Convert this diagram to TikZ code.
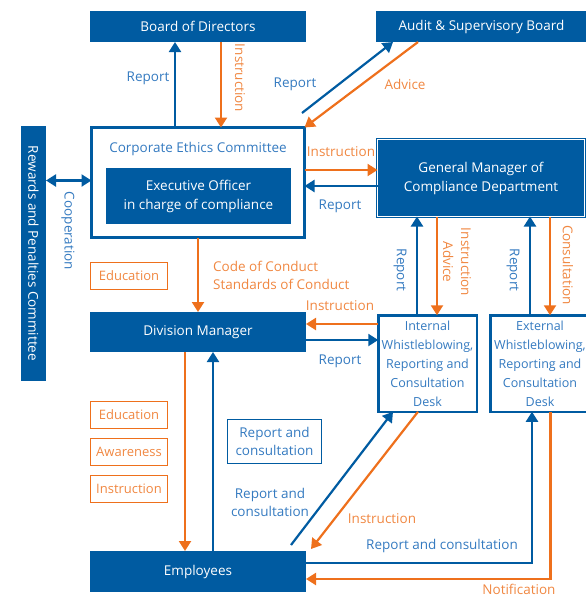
\documentclass[tikz,border=0pt]{standalone}
\usepackage{fontspec}
\setmainfont{Open Sans}
\usetikzlibrary{arrows.meta}
\definecolor{cblue}{RGB}{0,91,161}
\definecolor{ctxtb}{RGB}{52,122,192}
\definecolor{corange}{RGB}{238,112,28}
\definecolor{ctxto}{RGB}{240,135,65}
\tikzset{
  blkbox/.style={fill=cblue,text=white,inner sep=0pt,outer sep=0pt,align=center,
    font=\fontsize{13.5}{19}\selectfont},
  deskbox/.style={draw=cblue,line width=2.5pt,fill=white,text=ctxtb,inner sep=0pt,
    outer sep=0pt,align=center,font=\fontsize{12.5}{19}\selectfont},
  tagbox/.style={draw=corange,line width=1pt,text=ctxto,inner sep=0pt,outer sep=0pt,
    minimum width=77pt,minimum height=27pt,font=\fontsize{13}{16}\selectfont},
  blab/.style={text=ctxtb,inner sep=0pt,align=center,font=\fontsize{13.5}{18}\selectfont},
  olab/.style={text=ctxto,inner sep=0pt,align=center,font=\fontsize{13.5}{18}\selectfont},
  barr/.style={draw=cblue,line width=2.2pt,-{Triangle[length=10pt,width=12pt]}},
  oarr/.style={draw=corange,line width=2.2pt,-{Triangle[length=10pt,width=12pt]}},
}
\begin{document}
\begin{tikzpicture}[x=1pt,y=-1pt]
\useasboundingbox (0,0) rectangle (586,598);
% boxes
\node[blkbox,minimum width=216pt,minimum height=31pt] (bod) at (198,26.5) {Board of Directors};
\node[blkbox,minimum width=211pt,minimum height=31pt] (asb) at (481.5,26.5) {Audit \& Supervisory Board};
\node[blkbox,minimum width=25pt,minimum height=255pt] (rpc) at (33.5,253.5)
  {\rotatebox{-90}{Rewards and Penalties Committee}};
\node[deskbox,line width=3pt,minimum width=213pt,minimum height=110pt] (cec) at (198,182.5) {};
\node[blab] (cect) at (198,149) {Corporate Ethics Committee};
\node[blkbox,minimum width=185pt,minimum height=56pt] (exo) at (198.5,196)
  {Executive Officer\\in charge of compliance};
\node[blkbox,draw=cblue,double=white,double distance=0.8pt,line width=1.2pt,
  minimum width=207pt,minimum height=77pt] (gm) at (481,178)
  {General Manager of\\Compliance Department};
\node[blkbox,minimum width=216pt,minimum height=40pt] (dm) at (198,332) {Division Manager};
\node[deskbox,minimum width=98.5pt,minimum height=96.5pt] (idesk) at (427.5,363.5)
  {Internal\\Whistleblowing,\\Reporting and\\Consultation\\Desk};
\node[deskbox,minimum width=99pt,minimum height=96.5pt] (edesk) at (540,363.5)
  {External\\Whistleblowing,\\Reporting and\\Consultation\\Desk};
\node[blkbox,minimum width=216pt,minimum height=41pt] (emp) at (198,571.5) {Employees};
\node[tagbox] (edua) at (129,276) {Education};
\node[tagbox] (edub) at (129,415) {Education};
\node[tagbox] (awa) at (129,452) {Awareness};
\node[tagbox] (insb) at (129,488.5) {Instruction};
\node[blab,draw=cblue,line width=1pt,minimum width=94pt,minimum height=44pt] (racbox)
  at (274.5,441.5) {Report and\\consultation};
% connectors
\draw[barr] ([xshift=-23pt]cec.north) -- ([xshift=-23pt]bod.south);
\draw[oarr] ([xshift=23pt]bod.south) -- ([xshift=23pt]cec.north);
\draw[barr] ([xshift=-2.5pt,yshift=14.5pt]cec.north east) -- ([xshift=17pt]asb.south west);
\draw[oarr] ([xshift=42pt]asb.south west) -- (cec.north east);
\draw[oarr] ([yshift=12.5pt]cec.east) -- ([yshift=12.5pt]cec.east -| gm.west);
\draw[barr] ([yshift=-8pt]gm.west) -- ([yshift=-8pt]gm.west -| cec.east);
\draw[barr,{Triangle[length=10pt,width=12pt]}-{Triangle[length=10pt,width=12pt]}]
  ([yshift=2pt]cec.west) -- ([yshift=2pt]cec.west -| rpc.east);
\draw[oarr] (cec.south) -- (dm.north);
\draw[oarr] ([yshift=8pt]dm.east -| idesk.west) -- ([yshift=8pt]dm.east);
\draw[barr] ([yshift=-8pt]dm.east) -- ([yshift=-8pt]dm.east -| idesk.west);
\draw[barr] ([xshift=-10.5pt]idesk.north) -- ([xshift=-10.5pt]idesk.north |- gm.south);
\draw[oarr] ([xshift=9.5pt]idesk.north |- gm.south) -- ([xshift=9.5pt]idesk.north);
\draw[barr] ([xshift=-10pt]edesk.north) -- ([xshift=-10pt]edesk.north |- gm.south);
\draw[oarr] ([xshift=10pt]edesk.north |- gm.south) -- ([xshift=10pt]edesk.north);
\draw[oarr] ([xshift=-13pt]dm.south) -- ([xshift=-13pt]emp.north);
\draw[barr] ([xshift=15pt]emp.north) -- ([xshift=15pt]dm.south);
\draw[barr] ([xshift=-15pt,yshift=6pt]emp.north east) -- ([xshift=-34.5pt]idesk.south);
\draw[oarr] ([xshift=-9.5pt]idesk.south) -- ([xshift=5pt,yshift=2pt]emp.north east);
\draw[barr] ([yshift=8.5pt]emp.east) -| ([xshift=-8pt]edesk.south);
\draw[oarr] ([xshift=10.5pt]edesk.south) |- ([yshift=-7.5pt]emp.east);
% labels
\node[blab] (lrepa) at (148,78) {Report};
\node[olab,rotate=-90] (linsa) at (240,78) {Instruction};
\node[blab] (lrepb) at (295,84) {Report};
\node[olab] (ladv) at (405,84) {Advice};
\node[olab] (linsb) at (341,152) {Instruction};
\node[blab] (lrepc) at (340,206) {Report};
\node[blab,rotate=-90] (lcoop) at (68,231) {Cooperation};
\node[olab,align=left,anchor=west] (lcode) at (213,275) {Code of Conduct\\Standards of Conduct};
\node[olab] (linsc) at (340,306) {Instruction};
\node[blab] (lrepd) at (340,361) {Report};
\node[blab,rotate=-90] (lrepe) at (400,270) {Report};
\node[olab,rotate=-90] (linsadv) at (457,262) {Instruction\\Advice};
\node[blab,rotate=-90] (lrepf) at (513,270) {Report};
\node[olab,rotate=-90] (lcons) at (568,265) {Consultation};
\node[blab] (lrac) at (270,502) {Report and\\consultation};
\node[olab] (linsd) at (382,519) {Instruction};
\node[blab] (lracb) at (442,546) {Report and consultation};
\node[olab] (lnote) at (519,589.5) {Notification};
\end{tikzpicture}
\end{document}
